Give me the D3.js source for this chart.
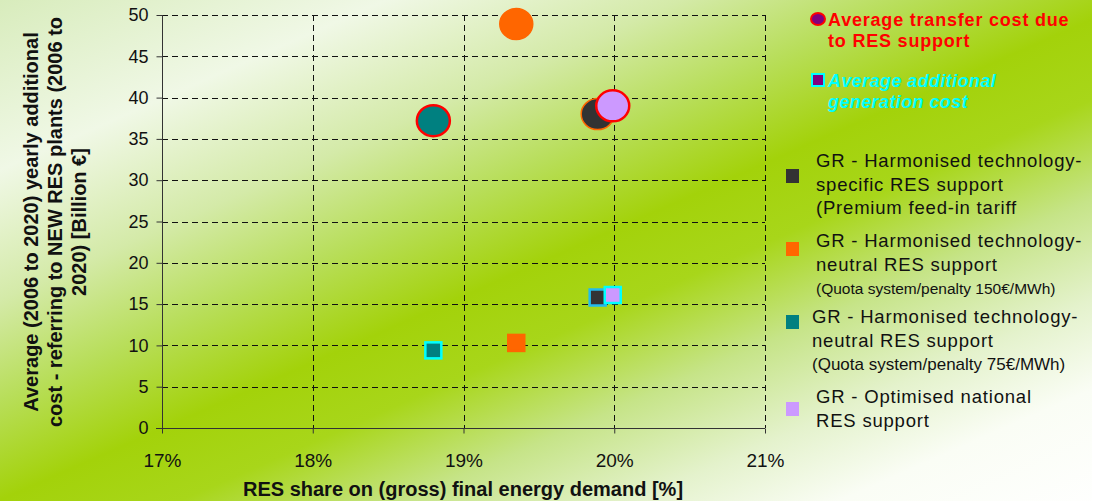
<!DOCTYPE html>
<html>
<head>
<meta charset="utf-8">
<script src="https://cdn.jsdelivr.net/npm/d3@7/dist/d3.min.js"></script>
<style>
  html, body { margin: 0; padding: 0; background: #ffffff; }
  svg { display: block; font-family: "Liberation Sans", Arial, sans-serif; }
</style>
</head>
<body>
<svg id="chart" width="1099" height="501"></svg>
<script>
// Scenario data: RES share vs. average yearly additional cost (2006-2020)
const scenarios = [
  "GR - Harmonised technology-specific RES support (Premium feed-in tariff",
  "GR - Harmonised technology-neutral RES support (Quota system/penalty 150€/MWh)",
  "GR - Harmonised technology-neutral RES support (Quota system/penalty 75€/MWh)",
  "GR - Optimised national RES support"
];
const resShare = [19.89, 19.35, 18.80, 19.99];          // % of gross final energy demand
const transferCost = [38.0, 48.9, 37.2, 39.0];          // Billion €
const generationCost = [15.8, 10.3, 9.4, 16.1];         // Billion €

const xTickValues = [17, 18, 19, 20, 21];
const yTickValues = [0, 5, 10, 15, 20, 25, 30, 35, 40, 45, 50];

const legendLines = [
  ["GR - Harmonised technology-", "specific RES support", "(Premium feed-in tariff"],
  ["GR - Harmonised technology-", "neutral RES support", "(Quota system/penalty 150€/MWh)"],
  ["GR - Harmonised technology-", "neutral RES support", "(Quota system/penalty 75€/MWh)"],
  ["GR - Optimised national", "RES support"]
];

// Styling
const fills = ["#333333", "#ff6600", "#008080", "#cc99ff"];
const circleStrokes = ["#ff6600", "#ff6600", "#ff0000", "#ff0000"];
const squareStrokes = ["#22bbee", "#ff6600", "#00ffff", "#00ffff"];

const svg = d3.select("#chart");

// Diagonal banded background
const defs = svg.append("defs");
const grad = defs.append("linearGradient")
  .attr("id", "bg").attr("gradientUnits", "userSpaceOnUse")
  .attr("x1", 0).attr("y1", 0).attr("x2", 368.6).attr("y2", 837.8);
[
  [0, "#d8ecbc"], [0.17, "#f0f8e6"], [0.30, "#d4eaa8"], [0.40, "#b8de5a"],
  [0.50, "#a3d20a"], [0.58, "#a8d61a"], [0.68, "#c6e488"], [0.78, "#e4f2cc"],
  [0.87, "#fafdf5"], [1, "#ffffff"]
].forEach(([o, c]) => grad.append("stop").attr("offset", o).attr("stop-color", c));
svg.append("rect").attr("x", 0).attr("y", 0).attr("width", 1092).attr("height", 501)
  .attr("fill", "url(#bg)");

// Scales
const x = d3.scaleLinear().domain([17, 21]).range([162, 765]);
const y = d3.scaleLinear().domain([0, 50]).range([428, 15]);

// Dashed grid
const grid = svg.append("g").attr("stroke", "#111").attr("stroke-width", 1)
  .attr("stroke-dasharray", "6,4").attr("fill", "none");
grid.selectAll("line.h").data(yTickValues.filter(v => v > 0)).join("line")
  .attr("x1", x(17)).attr("x2", x(21))
  .attr("y1", d => Math.round(y(d)) + 0.5).attr("y2", d => Math.round(y(d)) + 0.5);
grid.selectAll("line.v").data(xTickValues.filter(v => v > 17)).join("line")
  .attr("y1", y(50)).attr("y2", y(0))
  .attr("x1", d => Math.round(x(d)) + 0.5).attr("x2", d => Math.round(x(d)) + 0.5);

// Axes
const yAxis = svg.append("g").attr("transform", `translate(${Math.round(x(17)) + 0.5},0)`)
  .call(d3.axisLeft(y).tickValues(yTickValues).tickSize(6).tickPadding(8));
const xAxis = svg.append("g").attr("transform", `translate(0,${Math.round(y(0)) + 0.5})`)
  .call(d3.axisBottom(x).tickValues(xTickValues).tickSize(5).tickPadding(20)
    .tickFormat(d => d + "%"));
[yAxis, xAxis].forEach(a => {
  a.select(".domain").attr("stroke", "#333");
  a.selectAll(".tick line").attr("stroke", "#333");
  a.selectAll(".tick text").attr("fill", "#111").attr("font-size", 18)
    .attr("font-family", "'Liberation Sans', Arial, sans-serif");
});
xAxis.selectAll(".tick text").attr("font-size", 19);
yAxis.select(".domain").attr("d", `M0,${y(50)}V${y(0) + 5}`);
xAxis.select(".domain").attr("d", `M${x(17) - 6},0H${x(21)}`);

// Axis titles
svg.append("text").attr("x", 463).attr("y", 496).attr("text-anchor", "middle")
  .attr("font-size", 20).attr("font-weight", "bold").attr("fill", "#111")
  .text("RES share on (gross) final energy demand [%]");

const yTitle = ["Average (2006 to 2020) yearly additional",
  "cost - referring to NEW RES plants (2006 to", "2020) [Billion €]"];
svg.append("g").attr("transform", "translate(38,222) rotate(-90)")
  .selectAll("text").data(yTitle).join("text")
  .attr("x", 0).attr("y", (d, i) => i * 24).attr("text-anchor", "middle")
  .attr("font-size", 20).attr("font-weight", "bold").attr("fill", "#111")
  .text(d => d);

// Transfer cost bubbles
svg.append("g").selectAll("ellipse").data(resShare).join("ellipse")
  .attr("cx", (d, i) => x(d)).attr("cy", (d, i) => y(transferCost[i]))
  .attr("rx", 16.5).attr("ry", 15.5)
  .attr("fill", (d, i) => fills[i]).attr("stroke", (d, i) => circleStrokes[i])
  .attr("stroke-width", (d, i) => circleStrokes[i] === "#ff0000" ? 2.5 : 1.5);

// Generation cost squares
const sq = 16;
svg.append("g").selectAll("rect").data(resShare).join("rect")
  .attr("x", d => x(d) - sq / 2).attr("y", (d, i) => y(generationCost[i]) - sq / 2)
  .attr("width", sq).attr("height", sq)
  .attr("fill", (d, i) => fills[i]).attr("stroke", (d, i) => squareStrokes[i])
  .attr("stroke-width", 2.5);

// Marker-type legend
const lg = svg.append("g");
lg.append("ellipse").attr("cx", 818).attr("cy", 19).attr("rx", 7).attr("ry", 6)
  .attr("fill", "#800080").attr("stroke", "#ff0000").attr("stroke-width", 2);
lg.selectAll("text.t").data(["Average transfer cost due", "to RES support"]).join("text")
  .attr("x", 828).attr("y", (d, i) => 26 + i * 21)
  .attr("font-size", 18).attr("font-weight", "bold").attr("fill", "#ff0000")
  .attr("letter-spacing", 0.8)
  .text(d => d);
lg.append("rect").attr("x", 812).attr("y", 74).attr("width", 12).attr("height", 12)
  .attr("fill", "#800080").attr("stroke", "#00ffff").attr("stroke-width", 2);
lg.selectAll("text.g").data(["Average additional", "generation cost"]).join("text")
  .attr("x", 828).attr("y", (d, i) => 87 + i * 21)
  .attr("font-size", 18).attr("font-weight", "bold").attr("font-style", "italic")
  .attr("fill", "#00ffff").attr("letter-spacing", 0.4)
  .text(d => d);

// Scenario legend
const blockTop = [167, 247, 323, 403];
const blockX = [816, 816, 812, 816];
const swatchY = [176, 249, 322, 409];
const sl = svg.append("g");
legendLines.forEach((lines, i) => {
  sl.append("rect").attr("x", 786).attr("y", swatchY[i] - 7)
    .attr("width", 13).attr("height", 14).attr("fill", fills[i]);
  lines.forEach((t, j) => {
    const note = j === 2 && i > 0;
    const size = note ? (i === 1 ? 15.5 : 17) : 18.5;
    sl.append("text").attr("x", blockX[i]).attr("y", blockTop[i] + j * 23.5)
      .attr("font-size", size)
      .attr("letter-spacing", note ? 0 : 0.8)
      .attr("fill", "#111").text(t);
  });
});
</script>
</body>
</html>
